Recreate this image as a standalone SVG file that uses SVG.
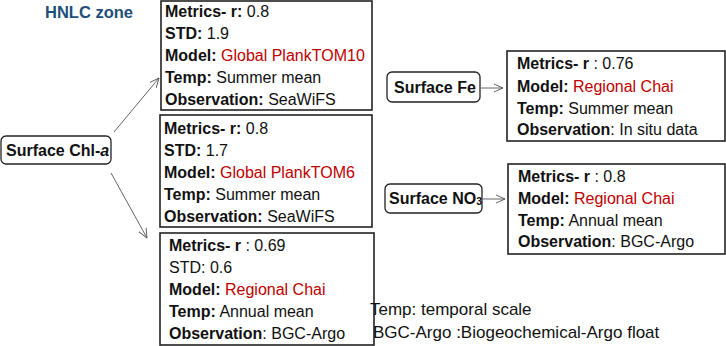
<svg xmlns="http://www.w3.org/2000/svg" width="726" height="346" viewBox="0 0 726 346">
<defs>
<style>
text{font-family:"Liberation Sans",Arial,sans-serif;font-size:16px;fill:#111}
.b{font-weight:bold}
.r{fill:#C00000}
.box{fill:#fff;stroke:#222;stroke-width:1.6}
.lbl{fill:#fff;stroke:#222;stroke-width:1.3}
.con{stroke:#555;stroke-width:0.9;fill:none}
.title{font-weight:bold;fill:#1F4E79;font-size:16.5px}
.note{font-size:17px}
</style>
<marker id="ah" viewBox="0 0 10 10" refX="9.5" refY="5" markerWidth="10" markerHeight="10" markerUnits="userSpaceOnUse" orient="auto">
<path d="M0,0.8 L9.5,5 L0,9.2" fill="none" stroke="#555" stroke-width="0.9"/>
</marker>
</defs>
<rect width="726" height="346" fill="#fff"/>
<text id="title" class="title" x="45" y="18">HNLC zone</text>

<g id="connectors">
<line class="con" x1="114" y1="132" x2="159" y2="78" marker-end="url(#ah)"/>
<line class="con" x1="111" y1="173" x2="147" y2="238" marker-end="url(#ah)"/>
<line class="con" x1="481" y1="88" x2="503" y2="88" marker-end="url(#ah)"/>
<line class="con" x1="483" y1="199" x2="505" y2="199" marker-end="url(#ah)"/>
</g>

<g id="chl">
<rect class="lbl" x="1" y="136" width="110" height="28" rx="5"/>
<text x="6" y="156" class="b" font-size="15.5">Surface Chl-<tspan font-style="italic">a</tspan></text>
</g>

<g id="fe">
<rect class="lbl" x="387" y="72" width="93" height="30" rx="5"/>
<text x="394" y="93" class="b" font-size="15.5">Surface Fe</text>
</g>

<g id="no3">
<rect class="lbl" x="385" y="184" width="97" height="29" rx="5"/>
<text x="389" y="204" class="b" font-size="15.5">Surface NO<tspan font-size="10.5" dy="1">3</tspan></text>
</g>

<g id="box1">
<rect class="box" x="161" y="1" width="211" height="109"/>
<text x="165" y="17"><tspan class="b">Metrics- r:</tspan> 0.8</text>
<text x="165" y="39"><tspan class="b">STD:</tspan> 1.9</text>
<text x="165" y="61"><tspan class="b">Model:</tspan> <tspan class="r">Global PlankTOM10</tspan></text>
<text x="165" y="83"><tspan class="b">Temp:</tspan> Summer mean</text>
<text x="165" y="105"><tspan class="b">Observation:</tspan> SeaWiFS</text>
</g>

<g id="box2">
<rect class="box" x="160" y="115" width="212" height="112"/>
<text x="164" y="134"><tspan class="b">Metrics- r:</tspan> 0.8</text>
<text x="164" y="156"><tspan class="b">STD:</tspan> 1.7</text>
<text x="164" y="178"><tspan class="b">Model:</tspan> <tspan class="r">Global PlankTOM6</tspan></text>
<text x="164" y="200"><tspan class="b">Temp:</tspan> Summer mean</text>
<text x="164" y="222"><tspan class="b">Observation:</tspan> SeaWiFS</text>
</g>

<g id="box3">
<rect class="box" x="160" y="233" width="214" height="112"/>
<text x="169" y="251"><tspan class="b">Metrics- r</tspan> : 0.69</text>
<text x="169" y="273">STD: 0.6</text>
<text x="169" y="295"><tspan class="b">Model:</tspan> <tspan class="r">Regional Chai</tspan></text>
<text x="169" y="317"><tspan class="b">Temp:</tspan> Annual mean</text>
<text x="169" y="339"><tspan class="b">Observation</tspan>: BGC-Argo</text>
</g>

<g id="fe-info">
<rect class="box" x="507" y="51" width="218" height="90"/>
<text x="517" y="69"><tspan class="b">Metrics- r</tspan> : 0.76</text>
<text x="517" y="92"><tspan class="b">Model:</tspan> <tspan class="r">Regional Chai</tspan></text>
<text x="517" y="114"><tspan class="b">Temp:</tspan> Summer mean</text>
<text x="517" y="135"><tspan class="b">Observation</tspan>: In situ data</text>
</g>

<g id="no3-info">
<rect class="box" x="508" y="164" width="217" height="90"/>
<text x="518" y="182"><tspan class="b">Metrics- r</tspan> : 0.8</text>
<text x="518" y="204"><tspan class="b">Model:</tspan> <tspan class="r">Regional Chai</tspan></text>
<text x="518" y="226"><tspan class="b">Temp:</tspan> Annual mean</text>
<text x="518" y="247"><tspan class="b">Observation</tspan>: BGC-Argo</text>
</g>

<g id="notes">
<text class="note" x="370" y="315">Temp: temporal scale</text>
<text class="note" x="373" y="338">BGC-Argo :Biogeochemical-Argo float</text>
</g>
</svg>
